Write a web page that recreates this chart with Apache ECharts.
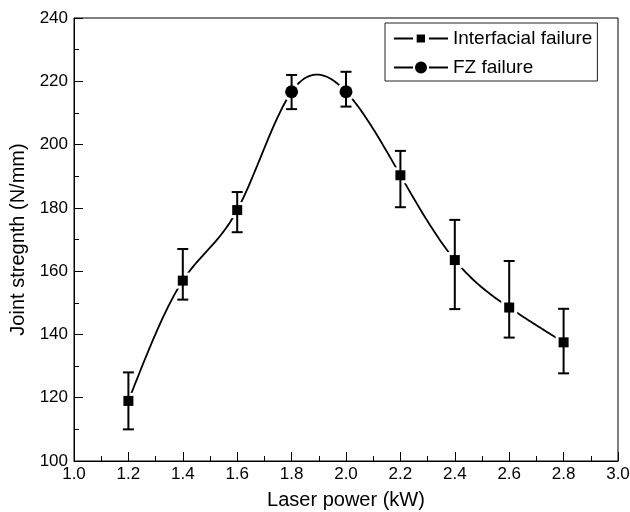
<!DOCTYPE html>
<html>
<head>
<meta charset="utf-8">
<script src="https://cdn.jsdelivr.net/npm/echarts@6/dist/echarts.min.js"></script>
<style>html,body{margin:0;padding:0;background:#fff;}#c{width:630px;height:512px;}</style>
</head>
<body>
<div id="c"></div>
<script>
// ---- data ----
var laserPower = [1.2, 1.4, 1.6, 1.8, 2.0, 2.2, 2.4, 2.6, 2.8];
var jointStrength = [119, 157, 179.3, 216.7, 216.7, 190.3, 163.5, 148.5, 137.5];
var errLow = [110, 151, 172.3, 211.2, 212, 180.2, 148, 139, 127.7];
var errHigh = [128, 167, 185, 222, 223, 198, 176.2, 163.2, 148.1];
var failureType = ['I', 'I', 'I', 'F', 'F', 'I', 'I', 'I', 'I'];
var seriesNames = { I: 'Interfacial failure', F: 'FZ failure' };
var xTicks = { min: 1.0, max: 3.0, interval: 0.2 };
var yTicks = { min: 100, max: 240, interval: 20 };

var FONT = '"Liberation Sans", Arial, Helvetica, sans-serif';

function pick(type) {
  var out = [];
  for (var i = 0; i < laserPower.length; i++) {
    if (failureType[i] === type) out.push([laserPower[i], jointStrength[i]]);
  }
  return out;
}
var curveData = laserPower.map(function (x, i) { return [x, jointStrength[i]]; });
var errData = laserPower.map(function (x, i) { return [x, errLow[i], errHigh[i]]; });

// natural cubic spline second derivatives (rendering of the connecting curve)
function splineM(xs, ys) {
  var n = xs.length, M = new Array(n).fill(0);
  var a = [], b = [], c = [], d = [];
  for (var i = 1; i < n - 1; i++) {
    var h0 = xs[i] - xs[i - 1], h1 = xs[i + 1] - xs[i];
    a.push(h0); b.push(2 * (h0 + h1)); c.push(h1);
    d.push(6 * ((ys[i + 1] - ys[i]) / h1 - (ys[i] - ys[i - 1]) / h0));
  }
  var m = b.length;
  for (var k = 1; k < m; k++) {
    var w = a[k] / b[k - 1];
    b[k] -= w * c[k - 1]; d[k] -= w * d[k - 1];
  }
  var sol = new Array(m);
  sol[m - 1] = d[m - 1] / b[m - 1];
  for (var k2 = m - 2; k2 >= 0; k2--) sol[k2] = (d[k2] - c[k2] * sol[k2 + 1]) / b[k2];
  for (var j = 0; j < m; j++) M[j + 1] = sol[j];
  return M;
}
var M = splineM(laserPower, jointStrength);

var squareIcon = 'path://M0,3H19V5H0Z M22.7,0H31V8H22.7Z M35,3H54V5H35Z';
var circleIcon = 'path://M0,5H19V7H0Z M21,6A6,6 0 1 1 33,6A6,6 0 1 1 21,6Z M35,5H54V7H35Z';

var chart = echarts.init(document.getElementById('c'), null, { renderer: 'canvas' });
var axisCommon = {
  axisLine: { show: true, lineStyle: { color: '#000', width: 1 } },
  axisTick: { show: true, inside: true, length: 9, lineStyle: { color: '#000', width: 1 } },
  minorTick: { show: true, splitNumber: 2, length: 5, lineStyle: { color: '#000', width: 1 } },
  splitLine: { show: false },
  nameLocation: 'middle',
  nameTextStyle: { fontFamily: FONT, fontSize: 20, color: '#000' }
};

chart.setOption({
  animation: false,
  backgroundColor: '#fff',
  grid: { left: 74, right: 12, top: 18, bottom: 51, show: true, borderColor: '#000', borderWidth: 1,
    containLabel: false, outerBoundsMode: 'none' },
  legend: {
    orient: 'vertical', left: 385, top: 23,
    padding: [6, 5, 4, 9], itemGap: 10,
    itemWidth: 54, itemHeight: 12,
    borderColor: '#222', borderWidth: 1,
    selectedMode: false,
    itemStyle: { opacity: 1 },
    textStyle: { fontFamily: FONT, fontSize: 19, color: '#000' },
    data: [
      { name: seriesNames.I, icon: squareIcon },
      { name: seriesNames.F, icon: circleIcon }
    ]
  },
  xAxis: Object.assign({}, axisCommon, {
    type: 'value', min: xTicks.min, max: xTicks.max, interval: xTicks.interval,
    name: 'Laser power (kW)', nameGap: 29,
    axisLabel: { margin: 5, fontFamily: FONT, fontSize: 17, color: '#000',
      formatter: function (v) { return v.toFixed(1); } }
  }),
  yAxis: Object.assign({}, axisCommon, {
    type: 'value', min: yTicks.min, max: yTicks.max, interval: yTicks.interval,
    name: 'Joint stregnth (N/mm)', nameGap: 46,
    axisLabel: { margin: 6, fontFamily: FONT, fontSize: 17, color: '#000' }
  }),
  series: [
    {
      name: 'curve', type: 'custom', data: curveData, z: 1, silent: true,
      encode: { x: 0, y: 1 },
      renderItem: function (params, api) {
        var i = params.dataIndex;
        if (i >= laserPower.length - 1) return null;
        var x0 = laserPower[i], x1 = laserPower[i + 1];
        var y0 = jointStrength[i], y1 = jointStrength[i + 1];
        var h = x1 - x0, pts = [];
        for (var s = 0; s <= 30; s++) {
          var x = x0 + h * s / 30;
          var A = (x1 - x) / h, B = (x - x0) / h;
          var y = A * y0 + B * y1 + ((A * A * A - A) * M[i] + (B * B * B - B) * M[i + 1]) * h * h / 6;
          pts.push(api.coord([x, y]));
        }
        return { type: 'polyline', shape: { points: pts }, style: { stroke: '#000', lineWidth: 1.8, fill: null } };
      }
    },
    {
      name: 'haloI', type: 'scatter', data: pick('I'), symbol: 'rect', symbolSize: 16,
      itemStyle: { color: '#fff', opacity: 1 }, z: 2, silent: true
    },
    {
      name: 'haloF', type: 'scatter', data: pick('F'), symbol: 'circle', symbolSize: 19,
      itemStyle: { color: '#fff', opacity: 1 }, z: 2, silent: true
    },
    {
      name: 'errors', type: 'custom', data: errData, z: 3, silent: true,
      encode: { x: 0, y: [1, 2] },
      renderItem: function (params, api) {
        var x = api.value(0);
        var pLo = api.coord([x, api.value(1)]);
        var pHi = api.coord([x, api.value(2)]);
        var hw = 5.5;
        var st = { stroke: '#000', lineWidth: 2 };
        return {
          type: 'group',
          children: [
            { type: 'line', shape: { x1: pLo[0], y1: pLo[1], x2: pHi[0], y2: pHi[1] }, style: st },
            { type: 'line', shape: { x1: pLo[0] - hw, y1: pLo[1], x2: pLo[0] + hw, y2: pLo[1] }, style: st },
            { type: 'line', shape: { x1: pHi[0] - hw, y1: pHi[1], x2: pHi[0] + hw, y2: pHi[1] }, style: st }
          ]
        };
      }
    },
    {
      name: seriesNames.I, type: 'scatter', data: pick('I'), symbol: 'rect', symbolSize: 10,
      itemStyle: { color: '#000', opacity: 1 }, z: 4
    },
    {
      name: seriesNames.F, type: 'scatter', data: pick('F'), symbol: 'circle', symbolSize: 13,
      itemStyle: { color: '#000', opacity: 1 }, z: 4
    }
  ]
});
</script>
</body>
</html>
